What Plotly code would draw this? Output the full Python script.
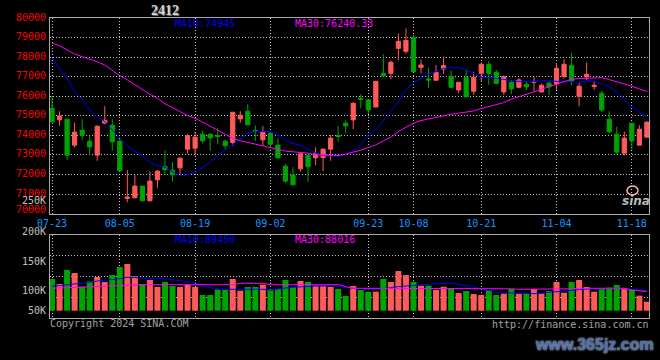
import plotly.graph_objects as go

# ---------------- data ----------------
dates = ["07-23","07-24","07-25","07-26","07-29","07-30","07-31","08-01","08-02","08-05",
         "08-06","08-07","08-08","08-09","08-12","08-13","08-14","08-15","08-16","08-19",
         "08-20","08-21","08-22","08-23","08-26","08-27","08-28","08-29","08-30","09-02",
         "09-03","09-04","09-05","09-06","09-09","09-10","09-11","09-12","09-13","09-18",
         "09-19","09-20","09-23","09-24","09-25","09-26","09-27","09-30","10-08","10-09",
         "10-10","10-11","10-14","10-15","10-16","10-17","10-18","10-21","10-22","10-23",
         "10-24","10-25","10-28","10-29","10-30","10-31","11-01","11-04","11-05","11-06",
         "11-07","11-08","11-11","11-12","11-13","11-14","11-15","11-18","11-19","11-20"]

open_ = [75389,74794,74828,73502,74267,73706,72992,74624,74522,73689,
         70782,70816,71411,70663,71734,72414,72227,72346,73298,73349,
         74063,74063,73995,73706,73638,74845,75236,74250,73774,74114,
         73502,72431,71972,72295,72992,72856,72873,73298,73995,74624,
         74794,75899,75814,75457,77174,77174,78449,78296,79010,77480,
         76885,76817,77395,77021,76324,76953,76256,77174,77633,77225,
         76222,76715,76460,76613,76715,76222,76664,76630,77004,77582,
         76001,76987,76494,76154,74828,74063,73094,74624,73502,73910]
high = [76001,75236,74862,74658,74828,73995,74505,75491,74828,73808,
        72227,71972,71411,72159,72210,73247,72635,72873,74063,74199,
        74250,74097,74369,73791,75185,75236,75593,74505,74471,74199,
        73859,72550,72380,73060,73060,73400,73349,74012,74488,74777,
        75695,76103,75814,76766,78143,77837,79214,79469,79129,77888,
        77463,77599,78024,77310,76715,77344,77259,77735,77786,77344,
        77055,76834,76919,76783,77004,76647,76749,77667,77888,78211,
        76664,77735,76783,76273,75236,74437,74199,74624,74522,74743]
low = [74692,74488,72737,73383,73757,72992,72703,74573,73213,72159,
       70578,70782,70612,70629,71326,71989,71649,71955,73077,72975,
       73587,73213,73553,73298,73468,74641,74539,73723,73468,73383,
       72856,71581,71479,72159,71632,72482,72176,72703,73672,74114,
       74318,75389,75083,75423,77004,76868,77837,78177,77259,77174,
       76409,76817,77140,76409,76154,75967,76069,76749,76579,76613,
       76069,76103,76409,76324,76239,76222,76069,76324,76919,76579,
       75491,76834,76324,75185,74114,73043,72975,73264,73502,73910]
close = [74692,74998,72992,74165,74012,73417,74471,74777,73672,72193,
         70850,71411,70663,71666,72176,72244,71989,72839,73978,73910,
         73723,73876,73944,73468,75185,75032,74539,74199,74199,73553,
         72856,71666,71479,73060,72397,73077,73298,73859,73944,74488,
         75644,75848,75304,76766,77038,77735,78806,78857,77259,77599,
         76834,77225,77565,76460,76715,75967,76970,77633,77174,76664,
         77004,76375,76834,76477,76749,76562,76477,77429,77633,76783,
         76511,77123,76562,75304,74182,73145,73859,73723,74318,74675]
ma10 = [77973,77395,76919,76239,75814,75304,74913,74709,74284,73893,
        73468,73213,72958,72635,72465,72380,72159,71921,71989,72125,
        72380,72635,72975,73247,73553,73825,74114,74199,74199,74182,
        74029,73723,73587,73485,73281,73094,72975,72941,72941,73009,
        73213,73519,74029,74284,74743,75219,75729,76324,76698,76919,
        77140,77259,77429,77463,77463,77344,77140,76970,76953,76919,
        76868,76783,76749,76749,76749,76800,76783,76749,76749,76749,
        76698,76783,76749,76647,76494,76205,75848,75474,75185,74945]
ma30 = [78721,78585,78364,78160,78024,77905,77769,77599,77310,77055,
        76834,76579,76358,76103,75899,75610,75423,75219,75015,74879,
        74675,74505,74284,74063,73859,73723,73655,73553,73468,73383,
        73264,73196,73162,73128,73094,73009,72992,72975,72975,73043,
        73128,73247,73383,73519,73723,73910,74199,74403,74624,74760,
        74845,74930,75015,75083,75134,75202,75253,75372,75474,75576,
        75678,75848,75967,76086,76222,76358,76494,76613,76749,76868,
        76902,76919,76970,76953,76851,76749,76630,76511,76375,76240]
volume = [112800,102900,130600,124700,97500,108200,116800,106900,120700,136600,
          142500,118100,102900,110800,96900,106900,98900,96900,101500,96900,
          81100,81100,91600,91600,112800,89600,96900,96900,101500,91000,
          93000,110800,96900,108800,106900,99500,99500,96900,93000,79100,
          98900,91000,87600,87600,112800,106900,128600,120700,106900,99500,
          99500,91000,97500,94400,85100,89000,83100,81100,91000,81100,
          83700,93000,83700,83700,93000,83700,89000,106900,85700,106900,
          110800,96900,87600,93000,95600,100900,94900,93000,79700,67800]
vol_ma10 = [98300,100300,102300,102900,104300,106900,108800,110200,111400,113400,
            116200,115400,114200,114200,114200,113400,111400,109400,107400,105500,
            98900,95600,93000,92400,92400,93000,93600,93000,92400,91000,
            93600,95000,96400,97600,98300,98900,98900,99500,98300,95600,
            94400,93000,92400,93000,93600,95600,97600,98900,100300,102300,
            102900,103500,104300,104300,102300,99500,97600,93000,89600,87000,
            85700,85100,84500,83100,83700,85100,86500,87600,89600,91000,
            92400,93000,93000,93600,94400,94400,93600,92400,91000,89450]
vol_ma30 = [94400,95000,95600,96300,97000,97600,98300,98600,99000,99500,
            101500,101500,101500,101500,101500,101500,101500,101500,101500,101500,
            101500,101500,101500,101500,101500,104300,104300,104300,104300,101500,
            101500,101500,101500,101500,101500,101500,101500,101500,101500,97600,
            94400,94400,94400,94400,94400,94400,94400,94400,94400,94400,
            94400,94400,94400,94400,94400,94400,94400,94400,93400,93400,
            93400,93400,92400,92400,92400,92400,92400,93400,93400,93400,
            94400,94400,94400,94400,94400,94400,94400,91000,90000,88016]
date_ticks = ["07-23","08-05","08-19","09-02","09-23","10-08","10-21","11-04","11-18"]
price_ticks = [70000,71000,72000,73000,74000,75000,76000,77000,78000,79000,80000]
vol_tick_labels = ["250K","200K","150K","100K","50K"]
symbol = "2412"
ma_price_text = ["MA10:74945", "MA30:76240.33"]
ma_vol_text = ["MA10:89450", "MA30:88016"]

# ---------------- styling ----------------
W, H = 660, 360
RED, GREEN = "#ff5a5a", "#00a400"
BLUE, MAGENTA = "#0000ff", "#ff00ff"
GRID = "#c4c4c4"
BORDER = "#a8a8a8"
MONO = "DejaVu Sans Mono"
VOL_FLOOR = 50000

def px(x):
    return x / W

def py(y):
    return 1 - y / H

xrange_ = [-0.27, 79.28]

fig = go.Figure()
fig.add_trace(go.Candlestick(
    x=dates, open=open_, high=high, low=low, close=close,
    increasing=dict(line=dict(color=RED, width=1), fillcolor=RED),
    decreasing=dict(line=dict(color=GREEN, width=1), fillcolor=GREEN),
    whiskerwidth=0, xaxis="x", yaxis="y", showlegend=False, hoverinfo="skip"))
fig.add_trace(go.Scatter(x=dates, y=ma10, mode="lines", line=dict(color=BLUE, width=1),
                         xaxis="x", yaxis="y", showlegend=False, hoverinfo="skip"))
fig.add_trace(go.Scatter(x=dates, y=ma30, mode="lines", line=dict(color=MAGENTA, width=1),
                         xaxis="x", yaxis="y", showlegend=False, hoverinfo="skip"))

bar_colors = [RED if c > o else GREEN for o, c in zip(open_, close)]
fig.add_trace(go.Bar(x=dates, y=[v - VOL_FLOOR for v in volume], base=VOL_FLOOR,
                     marker=dict(color=bar_colors, line=dict(width=0)), width=0.8,
                     xaxis="x2", yaxis="y2", showlegend=False, hoverinfo="skip"))
fig.add_trace(go.Scatter(x=dates, y=vol_ma10, mode="lines", line=dict(color=BLUE, width=1),
                         xaxis="x2", yaxis="y2", showlegend=False, hoverinfo="skip"))
fig.add_trace(go.Scatter(x=dates, y=vol_ma30, mode="lines", line=dict(color=MAGENTA, width=1),
                         xaxis="x2", yaxis="y2", showlegend=False, hoverinfo="skip"))

xdom = [px(50), px(649)]
vol_top, vol_bot = 200000, 35500
vol_grid = [vol_top - k * (vol_top - vol_bot) / 4 for k in range(1, 4)]

axis_common = dict(showline=True, mirror=True, linecolor=BORDER, linewidth=1,
                   zeroline=False, gridcolor=GRID, griddash="1px,2px", gridwidth=1,
                   fixedrange=True, automargin=False)

fig.update_layout(
    width=W, height=H, autosize=False, margin=dict(l=0, r=0, t=0, b=0, pad=0),
    paper_bgcolor="black", plot_bgcolor="black",
    boxgap=0.2, bargap=0.2,
    xaxis=dict(domain=xdom, anchor="y", type="category", range=xrange_,
               tickvals=date_ticks, ticktext=date_ticks, ticks="",
               tickfont=dict(family=MONO, size=10, color="#1e90ff"),
               rangeslider=dict(visible=False), showgrid=True, **axis_common),
    yaxis=dict(domain=[py(213.7), py(18)], anchor="x", range=[70000, 80000],
               tickvals=price_ticks, showticklabels=False, ticks="",
               showgrid=True, **axis_common),
    xaxis2=dict(domain=xdom, anchor="y2", type="category", range=xrange_,
                tickvals=date_ticks, showticklabels=False, ticks="",
                showgrid=True, **axis_common),
    yaxis2=dict(domain=[py(318), py(235)], anchor="x2", range=[vol_bot, vol_top],
                tickvals=vol_grid, showticklabels=False, ticks="",
                showgrid=True, **axis_common),
)

ann = []
def txt(text, x, y, color, size=10, xanchor="left", family=MONO, **kw):
    ann.append(dict(text=text, x=px(x), y=py(y), xref="paper", yref="paper",
                    xanchor=xanchor, yanchor="middle", showarrow=False,
                    font=dict(family=family, size=size, color=color, **kw)))

# price tick labels (red), placed on the price axis; the lowest one is nudged up as in the original
for v in price_ticks:
    ann.append(dict(text=str(v), x=px(48), y=v, xref="paper", yref="y",
                    xanchor="right", yanchor="middle", showarrow=False,
                    yshift=4 if v == price_ticks[0] else 1,
                    font=dict(family=MONO, size=10, color="#ff0000")))

txt(symbol, 165, 10, "#d6d6d6", size=14, xanchor="center", family="Liberation Serif",
    weight="bold", shadow="1px 1px 0px #666666")
txt(ma_price_text[0], 173, 23, BLUE)
txt(ma_price_text[1], 293, 23, MAGENTA)
txt(ma_vol_text[0], 173, 239, BLUE)
txt(ma_vol_text[1], 293, 239, MAGENTA)
for lab, yy in zip(vol_tick_labels, [200.5, 231, 261, 290, 310]):
    txt(lab, 48, yy, "#c0c0c0", xanchor="right")
txt("Copyright 2024 SINA.COM", 48, 323, "#a0a0a0")
txt("http://finance.sina.com.cn", 651, 324, "#a0a0a0", xanchor="right")
txt("sina", 636, 201, "#b8b8b8", size=12, xanchor="center", family="DejaVu Sans",
    weight="bold", style="italic")
txt("www.365jz.com", 594, 344, "#4d6fa8", size=16, xanchor="center", family="Liberation Sans",
    weight="bold", shadow="0px 0px 2px #dfe6f2")
fig.update_layout(annotations=ann)
fig.add_shape(type="circle", xref="paper", yref="paper",
              x0=px(627), x1=px(638), y0=py(195), y1=py(186),
              line=dict(color="#f0b0b0", width=1.5))

fig.write_html("out.html", config={"displayModeBar": False},
               post_script="document.body.style.margin='0';document.body.style.background='black';")
